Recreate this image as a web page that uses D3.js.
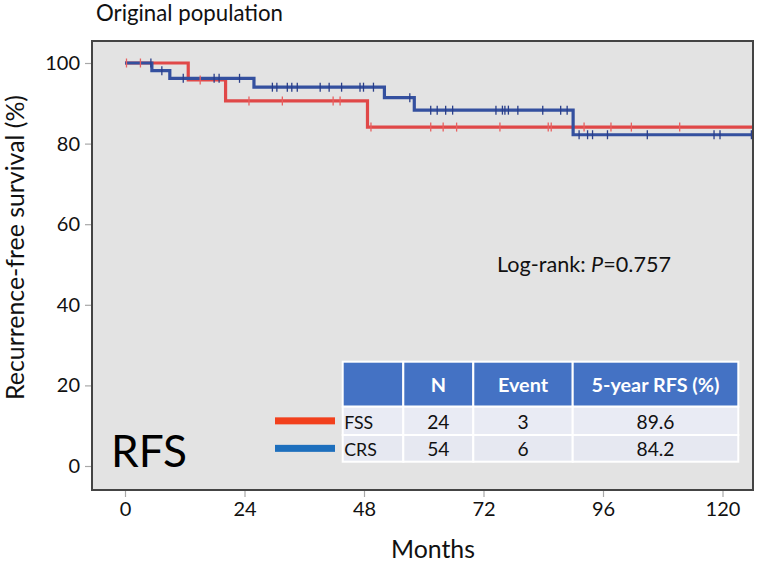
<!DOCTYPE html>
<html>
<head>
<meta charset="utf-8">
<script src="https://cdn.jsdelivr.net/npm/d3@7"></script>
<style>
  html, body { margin: 0; padding: 0; background: #ffffff; }
  svg { display: block; }
  text { font-family: Lato, "Open Sans", sans-serif; }
</style>
</head>
<body>
<svg id="chart" width="758" height="563"></svg>
<script>
// ---------------- data ----------------
const xTicks = [0, 24, 48, 72, 96, 120];
const yTicks = [0, 20, 40, 60, 80, 100];
const followUpEnd = 127;

// FSS Kaplan-Meier steps (months, survival %)
const fssTime     = [0, 12.7, 20.2, 48.7];
const fssSurvival = [100, 95.8, 90.6, 84.1];
const fssCensored = [0.3, 3.1, 15.1, 24.9, 31.6, 41.8, 43.2, 49.4, 61.4, 63.9, 66.6, 75.3, 85.0, 85.6, 92.2, 97.6, 101.7, 111.4];

// CRS Kaplan-Meier steps
const crsTime     = [0, 5.4, 9.0, 25.9, 52.1, 58.1, 90.0];
const crsSurvival = [100, 98.1, 96.2, 94.0, 91.4, 88.3, 82.2];
const crsCensored = [5.2, 7.4, 11.7, 17.9, 18.9, 23.0, 29.6, 30.5, 32.6, 33.5, 34.6, 39.2, 41.0, 43.5, 47.2, 47.9, 49.9,
                     57.2, 61.4, 62.7, 64.4, 65.8, 74.5, 75.8, 76.3, 77.0, 78.9, 83.9, 87.5, 88.8,
                     91.2, 92.9, 93.9, 96.9, 104.9, 118.3, 119.5, 125.8];

// table
const tableHeader = ["", "N", "Event", "5-year RFS (%)"];
const groups      = ["FSS", "CRS"];
const nPatients   = ["24", "54"];
const nEvents     = ["3", "6"];
const rfs5yr      = ["89.6", "84.2"];

// ---------------- drawing ----------------
const svg = d3.select("#chart");
const frame = {left: 92, top: 41, right: 753, bottom: 490};

const x = d3.scaleLinear().domain([0, 120]).range([125, 722.5]);
const y = d3.scaleLinear().domain([0, 100]).range([466, 63]);

function fitSize(sel, targetWidth, base) {
  sel.style("font-size", base + "px");
  const w = sel.node().getComputedTextLength();
  return base * targetWidth / w;
}
function fitText(sel, targetWidth, base) {
  const s = fitSize(sel, targetWidth, base);
  sel.style("font-size", s.toFixed(2) + "px");
  return s;
}

// frame background
svg.append("rect")
  .attr("x", frame.left).attr("y", frame.top)
  .attr("width", frame.right - frame.left).attr("height", frame.bottom - frame.top)
  .attr("fill", "#e3e3e3");

svg.append("clipPath").attr("id", "clip")
  .append("rect")
  .attr("x", frame.left).attr("y", frame.top)
  .attr("width", frame.right - frame.left).attr("height", frame.bottom - frame.top);

// axes
const xAxis = svg.append("g")
  .attr("transform", `translate(0,${frame.bottom})`)
  .call(d3.axisBottom(x).tickValues(xTicks).tickSize(7).tickPadding(5).tickFormat(d3.format("d")));
const yAxis = svg.append("g")
  .attr("transform", `translate(${frame.left},0)`)
  .call(d3.axisLeft(y).tickValues(yTicks).tickSize(7).tickPadding(5).tickFormat(d3.format("d")));
[xAxis, yAxis].forEach(g => {
  g.select(".domain").remove();
  g.selectAll(".tick line").attr("stroke", "#a8a8a8").attr("stroke-width", 1.2);
  g.selectAll(".tick text").attr("fill", "#111").style("font-size", "20px")
   .style("font-family", "Lato, sans-serif");
});

// curves
const plot = svg.append("g").attr("clip-path", "url(#clip)");

function stepPoints(times, surv) {
  const pts = times.map((t, i) => [t, surv[i]]);
  pts.push([followUpEnd, surv[surv.length - 1]]);
  return pts;
}
function survAt(times, surv, t) {
  let s = surv[0];
  for (let i = 0; i < times.length; i++) if (times[i] <= t) s = surv[i];
  return s;
}
const line = d3.line().x(d => x(d[0])).y(d => y(d[1])).curve(d3.curveStepAfter);

const series = [
  {time: fssTime, surv: fssSurvival, cens: fssCensored, color: "#e04848", tick: "#e86060"},
  {time: crsTime, surv: crsSurvival, cens: crsCensored, color: "#34509f", tick: "#2a3f8a"}
];

series.forEach(s => {
  plot.append("path")
    .datum(stepPoints(s.time, s.surv))
    .attr("d", line)
    .attr("fill", "none")
    .attr("stroke", s.color)
    .attr("stroke-width", 3.2)
    .attr("stroke-linejoin", "miter");
});
series.forEach(s => {
  plot.selectAll(null)
    .data(s.cens)
    .enter().append("line")
    .attr("x1", d => x(d)).attr("x2", d => x(d))
    .attr("y1", d => y(survAt(s.time, s.surv, d)) - 4.5)
    .attr("y2", d => y(survAt(s.time, s.surv, d)) + 4.5)
    .attr("stroke", s.tick)
    .attr("stroke-width", 1.3);
});

// frame border
svg.append("rect")
  .attr("x", frame.left).attr("y", frame.top)
  .attr("width", frame.right - frame.left).attr("height", frame.bottom - frame.top)
  .attr("fill", "none").attr("stroke", "#444").attr("stroke-width", 2);

// texts
const title = svg.append("text").attr("x", 96).attr("y", 21).attr("fill", "#111").text("Original population");
fitText(title, 187, 18);

const ylab = svg.append("text")
  .attr("transform", "translate(24,247.5) rotate(-90)")
  .attr("text-anchor", "middle").attr("fill", "#111")
  .text("Recurrence-free survival (%)");
fitText(ylab, 305, 22);

const xlab = svg.append("text").attr("x", 433).attr("y", 558)
  .attr("text-anchor", "middle").attr("fill", "#111").text("Months");
fitText(xlab, 84, 22);

const lr = svg.append("text").attr("x", 497).attr("y", 272).attr("fill", "#111");
lr.append("tspan").text("Log-rank: ");
lr.append("tspan").style("font-style", "italic").text("P");
lr.append("tspan").text("=0.757");
fitText(lr, 174, 18);

const rfs = svg.append("text").attr("x", 111).attr("y", 467).attr("fill", "#000").text("RFS");
fitText(rfs, 76, 46);

// table
const colX = [342.7, 403.3, 473.3, 572.7, 738.3];
const rowY = [361.7, 406.7, 435, 461.7];
const headBase = [0, 392, 392, 392];
const rowBase = [429, 455.7];
const tbl = svg.append("g");

const headTexts = [];
tableHeader.forEach((h, c) => {
  tbl.append("rect")
    .attr("x", colX[c]).attr("y", rowY[0])
    .attr("width", colX[c + 1] - colX[c]).attr("height", rowY[1] - rowY[0])
    .attr("fill", "#4472c4").attr("stroke", "#ffffff").attr("stroke-width", 2);
  if (h) headTexts.push(tbl.append("text")
    .attr("x", (colX[c] + colX[c + 1]) / 2).attr("y", headBase[c])
    .attr("text-anchor", "middle").attr("fill", "#ffffff")
    .style("font-weight", "bold")
    .text(h));
});
const headSize = fitSize(headTexts[2], 128, 18);
headTexts.forEach(t => t.style("font-size", headSize.toFixed(2) + "px"));

const numTexts = [], grpTexts = [];
groups.forEach((g, r) => {
  const cells = [g, nPatients[r], nEvents[r], rfs5yr[r]];
  cells.forEach((v, c) => {
    tbl.append("rect")
      .attr("x", colX[c]).attr("y", rowY[r + 1])
      .attr("width", colX[c + 1] - colX[c]).attr("height", rowY[r + 2] - rowY[r + 1])
      .attr("fill", r === 0 ? "#e9ebf4" : "#e6e8f1").attr("stroke", "#ffffff").attr("stroke-width", 2);
    const t = tbl.append("text")
      .attr("x", c === 0 ? colX[c] + 1.5 : (colX[c] + colX[c + 1]) / 2)
      .attr("y", rowBase[r])
      .attr("text-anchor", c === 0 ? "start" : "middle")
      .attr("fill", "#111")
      .text(v);
    (c === 0 ? grpTexts : numTexts).push(t);
  });
});
const numSize = fitSize(numTexts[2], 38, 18);
numTexts.forEach(t => t.style("font-size", numSize.toFixed(2) + "px"));
const grpSize = fitSize(grpTexts[0], 29, 16);
grpTexts.forEach(t => t.style("font-size", grpSize.toFixed(2) + "px"));

// legend swatches
const swatchColors = ["#f2401c", "#1d6fbd"];
groups.forEach((g, r) => {
  svg.append("rect")
    .attr("x", 275).attr("y", (rowY[r + 1] + rowY[r + 2]) / 2 - 3.5)
    .attr("width", 60).attr("height", 7)
    .attr("fill", swatchColors[r]);
});
</script>
</body>
</html>
